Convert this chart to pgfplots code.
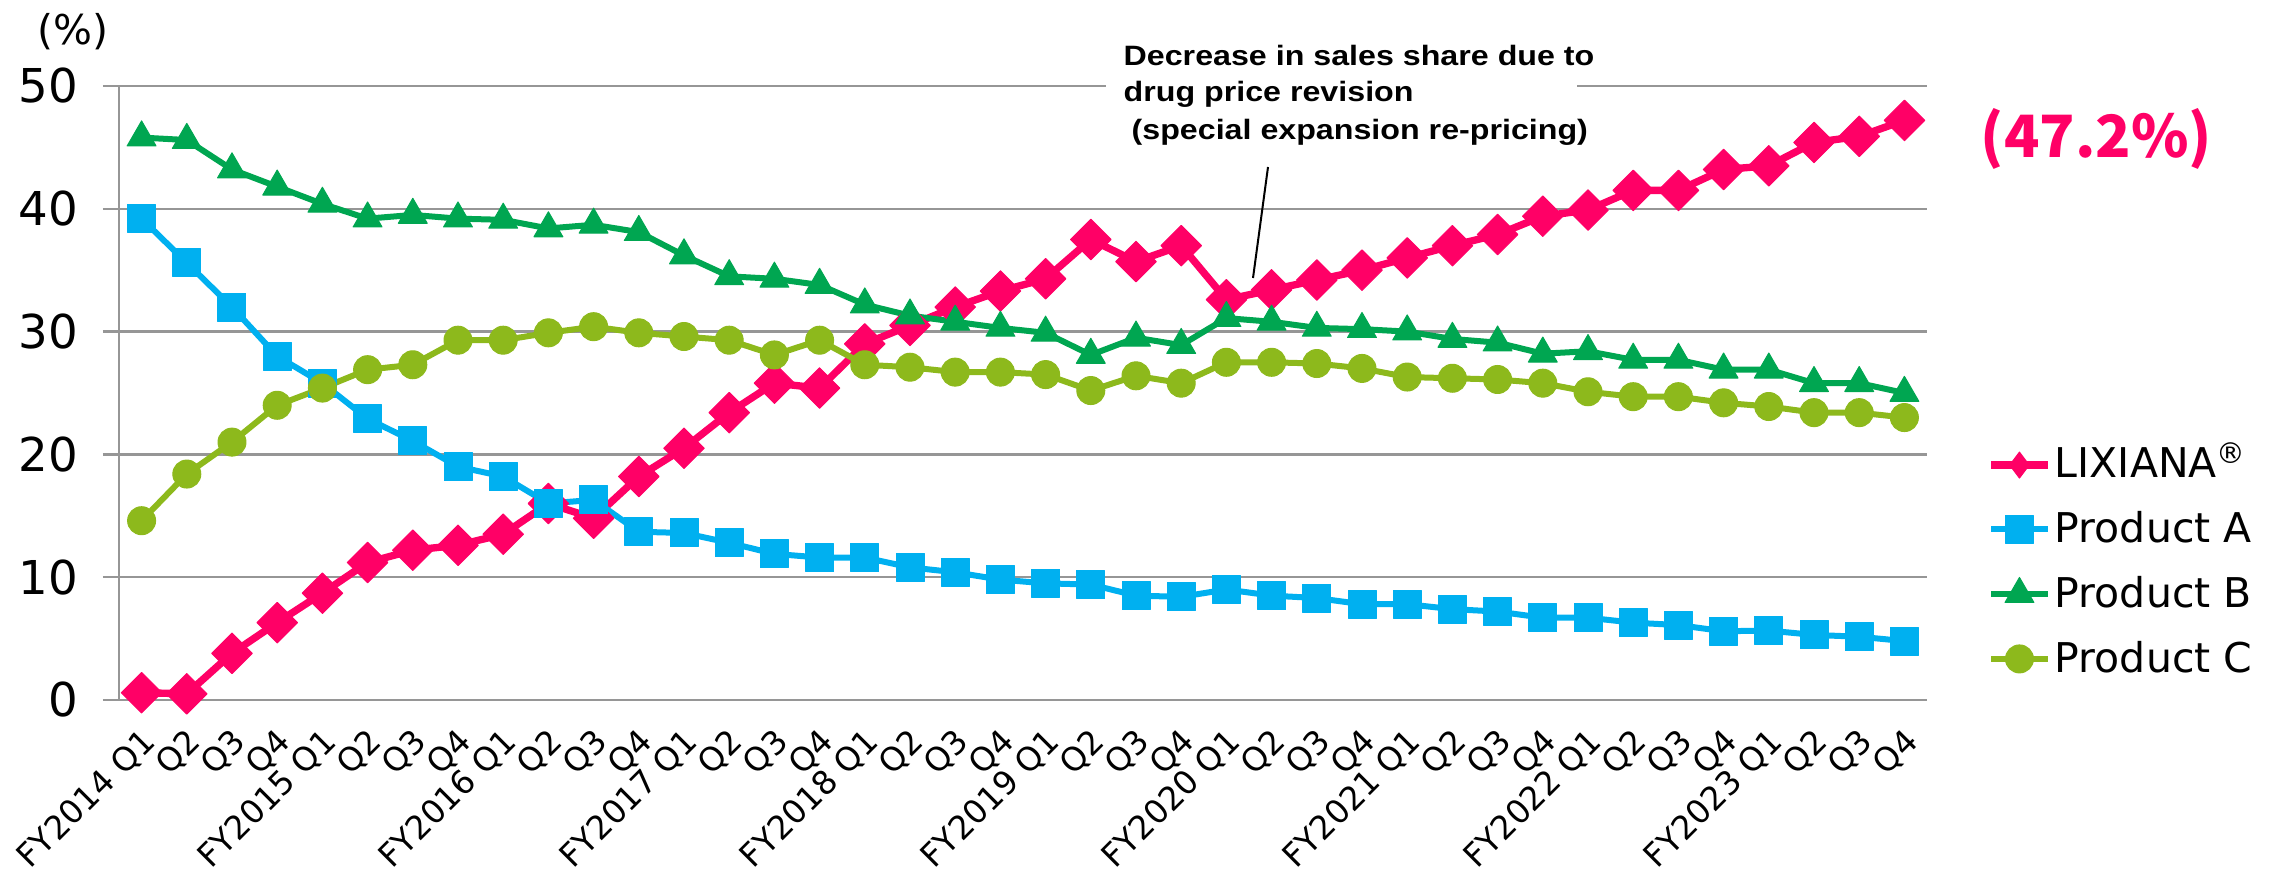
\documentclass[border=0pt]{standalone}
\usepackage{fontspec}
\setmainfont{DejaVu Sans}
\newfontfamily\annfont[FakeStretch=1.15]{Liberation Sans}
\newfontfamily\cjkfont{Noto Sans CJK JP}
\usepackage{pgfplots}
\pgfplotsset{compat=1.18}
\definecolor{lixpink}{HTML}{FF0066}
\definecolor{prodablue}{HTML}{00B0F0}
\definecolor{prodbgreen}{HTML}{00A651}
\definecolor{prodcolive}{HTML}{8DB91C}
\definecolor{gridgray}{HTML}{969696}

% smaller diamond in the legend than on the plot
\pgfplotsset{lixlegend/.style={legend image code/.code={\draw[mark repeat=2,mark phase=2,##1,mark=diamond*,mark size=3.9pt,mark options={solid,line width=0.3pt}] plot coordinates {(0cm,0cm) (0.3cm,0cm) (0.6cm,0cm)};}}}

% share (%) by quarter, FY2014 Q1 .. FY2023 Q4
\pgfplotstableread{
idx lix proda prodb prodc
0 0.6 39.2 45.8 14.6
1 0.5 35.6 45.6 18.4
2 3.8 32.0 43.2 21.0
3 6.3 28.0 41.8 24.0
4 8.7 25.8 40.4 25.4
5 11.2 22.9 39.2 26.9
6 12.2 21.1 39.5 27.3
7 12.6 19.0 39.2 29.3
8 13.5 18.2 39.1 29.3
9 16.0 16.0 38.4 29.9
10 14.8 16.3 38.7 30.4
11 18.2 13.7 38.1 29.9
12 20.5 13.6 36.2 29.6
13 23.4 12.8 34.5 29.3
14 25.8 11.9 34.3 28.1
15 25.4 11.6 33.8 29.3
16 29.0 11.6 32.2 27.3
17 30.5 10.8 31.3 27.1
18 32.0 10.4 30.8 26.7
19 33.3 9.8 30.3 26.7
20 34.3 9.5 29.9 26.5
21 37.5 9.4 28.1 25.2
22 35.7 8.5 29.5 26.4
23 37.0 8.4 28.9 25.8
24 32.6 9.0 31.1 27.5
25 33.4 8.5 30.8 27.5
26 34.2 8.3 30.3 27.4
27 35.0 7.8 30.2 27.0
28 36.0 7.8 30.0 26.3
29 37.0 7.4 29.4 26.2
30 37.9 7.2 29.1 26.1
31 39.4 6.7 28.2 25.8
32 39.9 6.7 28.4 25.1
33 41.5 6.3 27.7 24.7
34 41.5 6.1 27.7 24.7
35 43.2 5.6 26.9 24.2
36 43.5 5.65 26.9 23.9
37 45.4 5.3 25.8 23.4
38 45.9 5.15 25.8 23.4
39 47.2 4.8 25.0 23.0
}\sharedata

\begin{document}
\begin{tikzpicture}
\useasboundingbox (0,0) rectangle (681.6pt,261.9pt);
\begin{axis}[
  at={(35.7pt,51.9pt)}, anchor=south west,
  scale only axis, width=542.4pt, height=184.2pt,
  xmin=-0.5, xmax=39.5, ymin=0, ymax=50,
  clip=false,
  axis lines*=left,
  axis line style={draw=gridgray, line width=0.7pt},
  ymajorgrids, grid style={draw=gridgray, line width=0.7pt},
  tick align=outside,
  major tick length=4.8pt, minor tick length=3pt,
  tick style={draw=gridgray, line width=0.7pt},
  ytick={0,10,20,30,40,50}, yticklabels={0,10,20,30,40,50},
  y tick label style={font=\fontsize{14}{16}\selectfont, xshift=-4pt},
  xtick={0,...,39},
  xtick style={draw=none},
  minor xtick={-0.5,0.5,...,39.5},
  xticklabels={FY2014 Q1,Q2,Q3,Q4,FY2015 Q1,Q2,Q3,Q4,FY2016 Q1,Q2,Q3,Q4,FY2017 Q1,Q2,Q3,Q4,FY2018 Q1,Q2,Q3,Q4,FY2019 Q1,Q2,Q3,Q4,FY2020 Q1,Q2,Q3,Q4,FY2021 Q1,Q2,Q3,Q4,FY2022 Q1,Q2,Q3,Q4,FY2023 Q1,Q2,Q3,Q4},
  x tick label style={font=\fontsize{9.8}{12}\selectfont, xshift=5pt, yshift=-3.6pt, rotate=45, anchor=east},
  legend cell align=left,
  legend style={at={(axis description cs:1.033,0.4175)}, anchor=north west,
    draw=none, fill=none, inner sep=0pt, row sep=6.6pt, column sep=0pt,
    font=\fontsize{12.3}{14}\selectfont, nodes={inner sep=1pt}},
  every axis plot/.append style={line join=round},
]
\addplot[color=lixpink, line width=2.2pt, mark=square*, mark size=4.3pt,
  mark options={solid, rotate=45, line width=0.3pt}, lixlegend]
  table[x=idx, y=lix] {\sharedata};
\addlegendentry{LIXIANA\textsuperscript{\smash{®}}}
\addplot[color=prodablue, line width=1.8pt, mark=square*, mark size=4.2pt,
  mark options={solid, line width=0.3pt}]
  table[x=idx, y=proda] {\sharedata};
\addlegendentry{Product A}
\addplot[color=prodbgreen, line width=1.8pt, mark=triangle*, mark size=5pt,
  mark options={solid, line width=0.3pt}]
  table[x=idx, y=prodb] {\sharedata};
\addlegendentry{Product B}
\addplot[color=prodcolive, line width=1.8pt, mark=*, mark size=4.2pt,
  mark options={solid, line width=0.3pt}]
  table[x=idx, y=prodc] {\sharedata};
\addlegendentry{Product C}
\end{axis}
% annotation box over the top gridline
\fill[white] (331.8pt,233pt) rectangle (473.1pt,240pt);
\node[anchor=base west, inner sep=0pt, font=\annfont\bfseries\fontsize{8.4}{10}\selectfont] at (336.9pt,242.1pt) {Decrease in sales share due to};
\node[anchor=base west, inner sep=0pt, font=\annfont\bfseries\fontsize{8.4}{10}\selectfont] at (336.9pt,231.3pt) {drug price revision};
\node[anchor=base west, inner sep=0pt, font=\annfont\bfseries\fontsize{8.4}{10}\selectfont] at (339.3pt,219.9pt) {(special expansion re-pricing)};
\draw[line width=0.6pt] (380.4pt,211.8pt) -- (375.9pt,178.5pt);
\node[anchor=base, inner sep=0pt, text=lixpink, font=\cjkfont\bfseries\fontsize{17.5}{20}\selectfont] at (628.9pt,214.5pt) {(47.2\%)};
\node[anchor=base west, inner sep=0pt, font=\fontsize{12.3}{14}\selectfont] at (11.1pt,248.5pt) {(\%)};
\end{tikzpicture}
\end{document}
